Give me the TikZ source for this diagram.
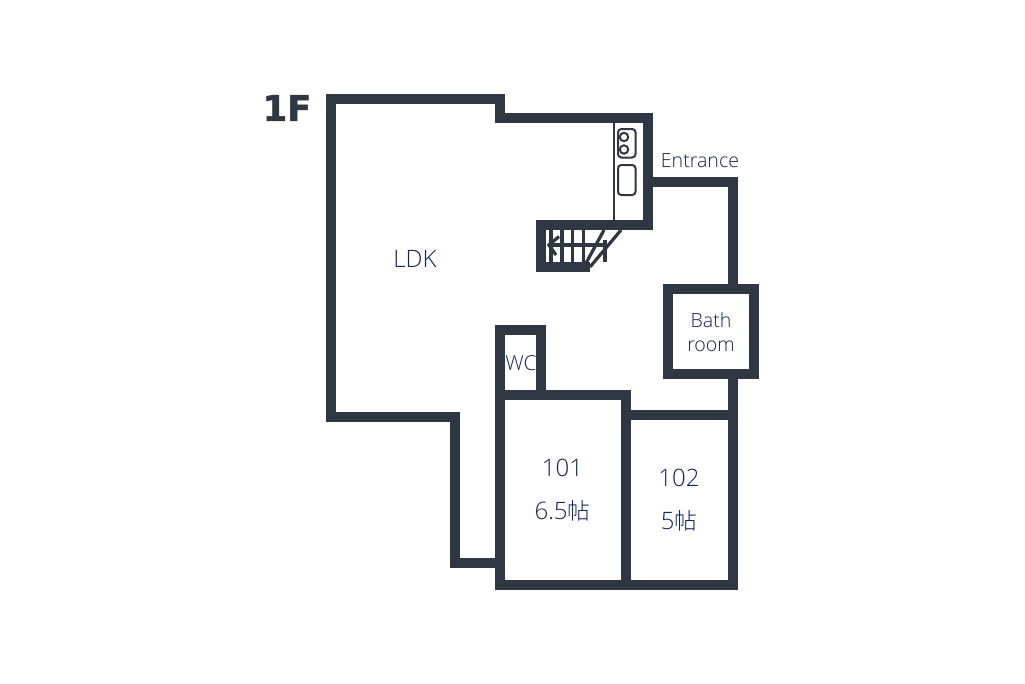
\documentclass[tikz,border=0pt]{standalone}
\usepackage{fontspec}
\setmainfont{Open Sans Light}[BoldFont={Open Sans}]
\newfontfamily\cjk{Noto Sans CJK JP Light}[Scale=0.95]
\newfontfamily\headfont{DejaVu Sans Bold}[FakeBold=1.5]
\definecolor{wallc}{HTML}{2E3742}
\definecolor{labelc}{HTML}{12265E}
\tikzset{
  wall/.style={draw=wallc,line width=7.5pt,miter limit=10,line cap=butt,line join=miter},
  thin wall/.style={draw=wallc,line width=1.3pt},
  fixture/.style={draw=wallc,line width=1.5pt,rounded corners=2.5pt},
  stairline/.style={draw=wallc,line width=2.4pt},
  room/.style={text=labelc,font=\fontsize{14.7}{15}\selectfont,inner sep=0pt,align=center},
  big room/.style={room,font=\fontsize{18}{18}\selectfont},
}
\begin{document}
\begin{tikzpicture}[x=0.75pt,y=-0.75pt]
\useasboundingbox (0,0) rectangle (1025,683);
\fill[white] (0,0) rectangle (1025,683);
% outer shell
\draw[wall] (331,99) -- (500,99) -- (500,118) -- (648,118) -- (648,225) -- (541,225) -- (541,267) -- (590,267);
\draw[wall] (653,182) -- (733,182) -- (733,284);
\draw[wall] (331,94) -- (331,417) -- (455,417) -- (455,563) -- (495,563);
% bath
\draw[wall] (668,289) rectangle (754,374);
\draw[wall] (733,379) -- (733,585);
% rooms
\draw[wall] (500,590) -- (500,330) -- (541,330) -- (541,395);
\draw[wall] (505,395) -- (626,395) -- (626,580);
\draw[wall] (631,415) -- (728,415);
\draw[wall] (495,585) -- (738,585);
% kitchen
\draw[thin wall] (614,123) -- (614,220);
\draw[fixture] (618,129) rectangle (635.5,157.5);
\draw[fixture] (618,165) rectangle (635.5,195);
\draw[fixture] (624,137) circle (4.2);
\draw[fixture] (624,149.5) circle (4.2);
% stairs
\draw[stairline] (551,230) -- (551,262);
\draw[stairline] (562,230) -- (562,262);
\draw[stairline] (572.5,230) -- (572.5,262);
\draw[stairline] (583.3,230) -- (583.3,262);
\draw[stairline] (605,240) -- (605,262);
\draw[stairline] (548,245) -- (605,245);
\draw[stairline] (559,236.5) -- (549,245) -- (556,255);
\draw[stairline] (585,265) -- (604,230);
\draw[stairline] (590,267) -- (621,230);
% text
\node[font=\headfont\fontsize{26.5}{26}\selectfont,text=wallc,inner sep=0pt,anchor=center] (floor) at (287,108) {1F};
\node[big room] (ldk) at (415,259) {LDK};
\node[room] (entrance) at (700,161) {Entrance};
\node[room,font=\fontsize{15.5}{15.5}\selectfont] (wc) at (521,363) {WC};
\node[room] (bath) at (711,320) {Bath};
\node[room] (bathb) at (711,346) {room};
\node[big room] (r1) at (562.5,468) {101};
\node[big room] (r1b) at (562.5,511) {6.5{\cjk 帖}};
\node[big room] (r2) at (679,478) {102};
\node[big room] (r2b) at (679,521) {5{\cjk 帖}};
\end{tikzpicture}
\end{document}
